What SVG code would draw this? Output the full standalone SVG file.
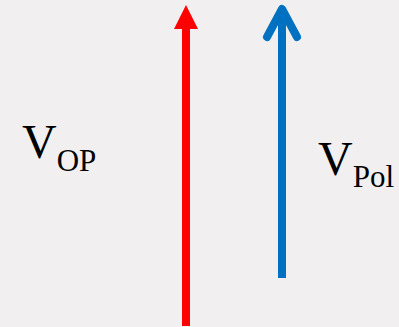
<svg xmlns="http://www.w3.org/2000/svg" width="399" height="327" viewBox="0 0 399 327">
<style>
.lbl{font-family:"Liberation Serif","Times New Roman",serif;fill:#000}
.big{font-size:48px}
.sub{font-size:31px}
</style>
<rect width="399" height="327" fill="#F1EFEF"/>
<g id="connectors">
<g id="red-arrow">
<line x1="186" y1="26" x2="186" y2="326" stroke="#FF0000" stroke-width="8"/>
<polygon points="174,29 186,5 198,29" fill="#FF0000"/>
</g>
<g id="blue-arrow" stroke="#0070C0" stroke-width="8" fill="none">
<line x1="282" y1="10" x2="282" y2="278"/>
<polyline points="267,37 282,9 297,37" stroke-linecap="round" stroke-linejoin="round"/>
</g>
</g>
<g id="label-vop">
<text class="lbl" x="22" y="158"><tspan class="big">V</tspan><tspan class="sub" dy="13">OP</tspan></text>
</g>
<g id="label-vpol">
<text class="lbl" x="318" y="175"><tspan class="big">V</tspan><tspan class="sub" dy="12">Pol</tspan></text>
</g>
</svg>
